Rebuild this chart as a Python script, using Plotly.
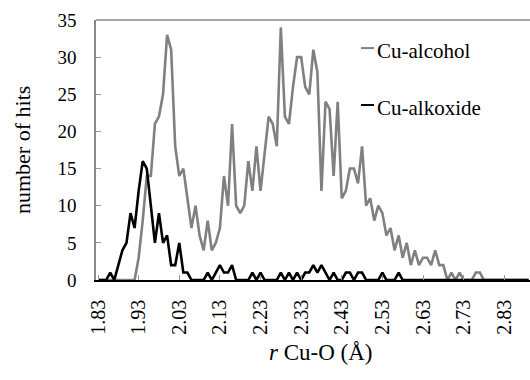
import plotly.graph_objects as go

# Category axis: Cu-O distance (Å), one bin per 0.01 Å
r_cu_o = [1.83, 1.84, 1.85, 1.86, 1.87, 1.88, 1.89, 1.90, 1.91, 1.92,
          1.93, 1.94, 1.95, 1.96, 1.97, 1.98, 1.99, 2.00, 2.01, 2.02,
          2.03, 2.04, 2.05, 2.06, 2.07, 2.08, 2.09, 2.10, 2.11, 2.12,
          2.13, 2.14, 2.15, 2.16, 2.17, 2.18, 2.19, 2.20, 2.21, 2.22,
          2.23, 2.24, 2.25, 2.26, 2.27, 2.28, 2.29, 2.30, 2.31, 2.32,
          2.33, 2.34, 2.35, 2.36, 2.37, 2.38, 2.39, 2.40, 2.41, 2.42,
          2.43, 2.44, 2.45, 2.46, 2.47, 2.48, 2.49, 2.50, 2.51, 2.52,
          2.53, 2.54, 2.55, 2.56, 2.57, 2.58, 2.59, 2.60, 2.61, 2.62,
          2.63, 2.64, 2.65, 2.66, 2.67, 2.68, 2.69, 2.70, 2.71, 2.72,
          2.73, 2.74, 2.75, 2.76, 2.77, 2.78, 2.79, 2.80, 2.81, 2.82,
          2.83, 2.84, 2.85, 2.86, 2.87, 2.88, 2.89]

cu_alcohol = [0, 0, 0, 0, 0, 0, 0, 0, 0, 0,
              3, 8, 14, 14, 21, 22, 25, 33, 31, 18,
              14, 15, 11, 7, 10, 6, 4, 8, 4, 5,
              7, 14, 10, 21, 10, 9, 10, 16, 12, 18,
              12, 17, 22, 21, 18, 34, 22, 21, 26, 30,
              30, 26, 25, 31, 28, 12, 24, 23, 14, 24,
              11, 12, 15, 15, 13, 18, 10, 11, 8, 10,
              9, 6, 7, 4, 6, 3, 5, 2, 4, 2,
              3, 3, 2, 4, 2, 2, 0, 1, 0, 1,
              0, 0, 0, 1, 1, 0, 0, 0, 0, 0,
              0, 0, 0, 0, 0, 0, 0]

cu_alkoxide = [0, 0, 0, 1, 0, 2, 4, 5, 9, 7,
               12, 16, 15, 10, 5, 9, 5, 6, 2, 2,
               5, 1, 1, 0, 0, 0, 0, 1, 0, 1,
               2, 1, 1, 2, 0, 0, 0, 0, 1, 0,
               1, 0, 0, 0, 0, 1, 0, 1, 0, 1,
               0, 1, 1, 2, 1, 2, 1, 0, 1, 0,
               0, 1, 1, 0, 1, 1, 0, 0, 0, 0,
               1, 0, 0, 0, 1, 0, 0, 0, 0, 0,
               0, 0, 0, 0, 0, 0, 0, 0, 0, 0,
               0, 0, 0, 0, 0, 0, 0, 0, 0, 0,
               0, 0, 0, 0, 0, 0, 0]

x_tick_values = [1.83, 1.93, 2.03, 2.13, 2.23, 2.33, 2.43, 2.53, 2.63, 2.73, 2.83]
x_tick_labels = ["1.83", "1.93", "2.03", "2.13", "2.23", "2.33", "2.43", "2.53", "2.63", "2.73", "2.83"]
y_tick_values = [0, 5, 10, 15, 20, 25, 30, 35]

series_names = ["Cu-alcohol", "Cu-alkoxide"]
series_colors = ["#808080", "#000000"]

SERIF = "Liberation Serif, Times New Roman, serif"

fig = go.Figure()
for name, vals, col in zip(series_names, [cu_alcohol, cu_alkoxide], series_colors):
    fig.add_trace(go.Scatter(x=r_cu_o, y=vals, mode="lines", name=name,
                             line=dict(color=col, width=2.6), showlegend=False))

fig.update_layout(
    width=530, height=380,
    margin=dict(l=96, r=0, t=20, b=100),
    paper_bgcolor="white", plot_bgcolor="white",
    font=dict(family=SERIF, color="black"),
    xaxis=dict(range=[1.825, 2.8934], tickvals=x_tick_values, ticktext=x_tick_labels,
               tickangle=-90, ticks="inside", ticklen=5, tickcolor="#999999", tickwidth=1,
               showline=True, linecolor="black", linewidth=1.5,
               showgrid=False, zeroline=False, ticklabelstandoff=10,
               tickfont=dict(family=SERIF, size=20, color="black")),
    yaxis=dict(range=[0, 35], tickvals=y_tick_values, ticks="inside", ticklen=5,
               tickcolor="#999999", tickwidth=1,
               showline=True, linecolor="#888888", linewidth=1.5,
               showgrid=False, zeroline=False, ticklabelstandoff=14,
               tickfont=dict(family=SERIF, size=19, color="black")),
    shapes=[
        dict(type="line", xref="paper", yref="paper", x0=0, x1=1, y0=1, y1=1,
             line=dict(color="#888888", width=1.5)),
        dict(type="line", xref="paper", yref="paper", x0=0.6106, x1=0.6406, y0=0.892, y1=0.892,
             line=dict(color=series_colors[0], width=2)),
        dict(type="line", xref="paper", yref="paper", x0=0.6106, x1=0.6406, y0=0.673, y1=0.673,
             line=dict(color=series_colors[1], width=2)),
    ],
    annotations=[
        dict(text=series_names[0], xref="paper", yref="paper", x=0.643, y=0.880,
             xanchor="left", yanchor="middle", showarrow=False,
             font=dict(family=SERIF, size=21, color="black")),
        dict(text=series_names[1], xref="paper", yref="paper", x=0.643, y=0.661,
             xanchor="left", yanchor="middle", showarrow=False,
             font=dict(family=SERIF, size=21, color="black")),
        dict(text="<i>r</i> Cu-O (Å)", xref="paper", yref="paper", x=0.518, y=-0.277,
             xanchor="center", yanchor="middle", showarrow=False,
             font=dict(family=SERIF, size=23, color="black")),
        dict(text="number of hits", xref="paper", yref="paper", x=-0.1705, y=0.5,
             xanchor="center", yanchor="middle", textangle=-90, showarrow=False,
             font=dict(family=SERIF, size=22, color="black")),
    ],
)

fig.write_html("out.html")
